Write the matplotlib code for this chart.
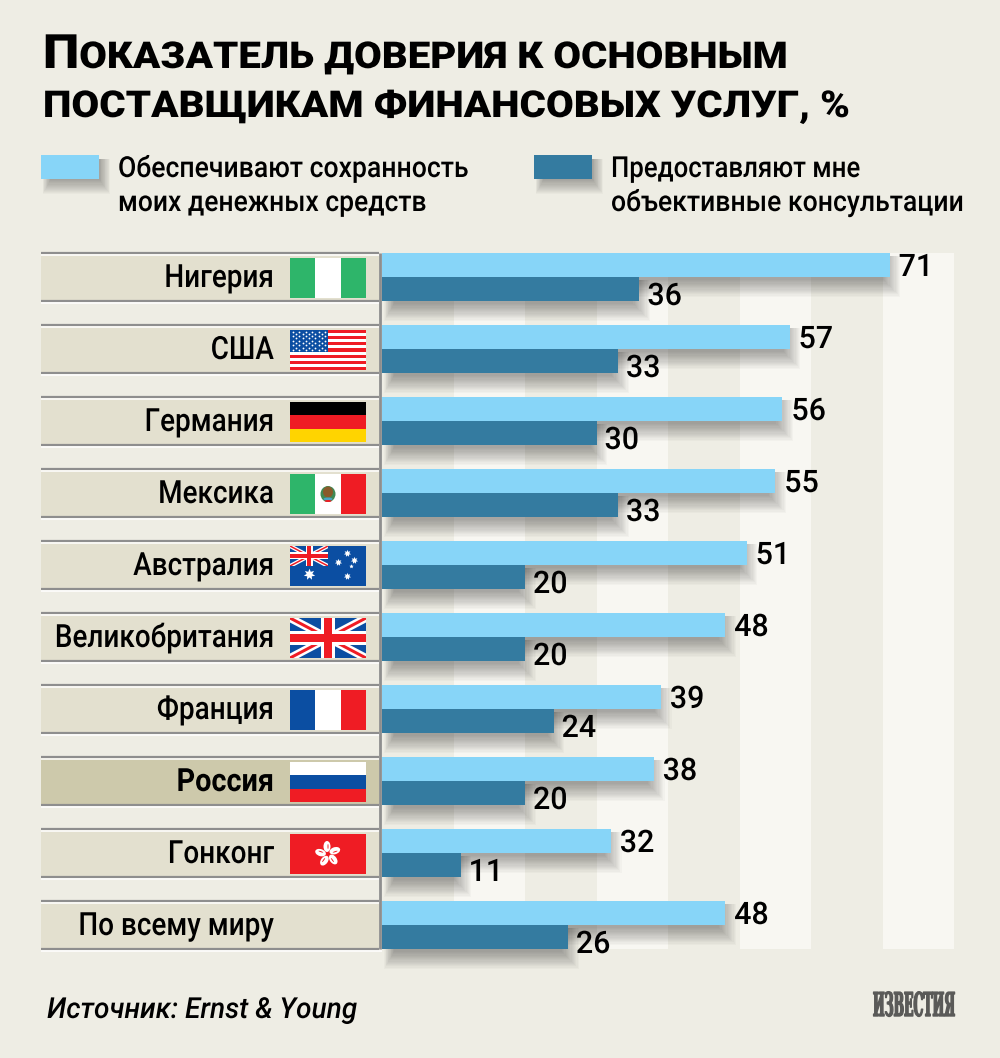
import matplotlib
matplotlib.use("Agg")
import matplotlib.pyplot as plt
from matplotlib.patches import Rectangle, Ellipse
from matplotlib.patheffects import AbstractPathEffect
from matplotlib.path import Path
from matplotlib.transforms import Affine2D

# ---------- data ----------
countries = ["Нигерия", "США", "Германия", "Мексика", "Австралия",
             "Великобритания", "Франция", "Россия", "Гонконг", "По всему миру"]
flags = ["ng", "us", "de", "mx", "au", "gb", "fr", "ru", "hk", None]
safety = [71, 57, 56, 55, 51, 48, 39, 38, 32, 48]
advice = [36, 33, 30, 33, 20, 20, 24, 20, 11, 26]
title_lines = ["Показатель доверия к основным".upper(),
               "поставщикам финансовых услуг, %".upper()]
legend_safety = ["Обеспечивают сохранность", "моих денежных средств"]
legend_advice = ["Предоставляют мне", "объективные консультации"]
source = "Источник: Ernst & Young"
logo = "ИЗВЕСТИЯ"

# ---------- style ----------
BG = "#eeede4"
STRIPE = "#f8f7f2"
LIGHT = "#87d5f8"
DARK = "#347ba0"
PANEL = "#e3e0cf"
PANEL_RU = "#cdc9ab"
GREY = "#8e8e8e"
GREEN = "#2eb56a"
RED = "#ef1c24"
BLUE = "#0b4ea2"
FONT = "Roboto"
PT = 0.72
W, H = 1000, 1058
ROW0, PITCH = 277, 72

fig = plt.figure(figsize=(W / 100, H / 100), dpi=100, facecolor=BG)
renderer = fig.canvas.get_renderer()

over = fig.add_axes([0, 0, 1, 1], zorder=1)
over.set_xlim(0, W)
over.set_ylim(H, 0)
over.axis("off")


class Stretch(AbstractPathEffect):
    """Scale glyphs about the text origin; optionally enlarge the first letter or thicken."""
    def __init__(self, sx=1.0, sy=1.0, first=None, adv=70, stroke=None):
        super().__init__()
        self.sx, self.sy, self.first, self.adv, self.stroke = sx, sy, first, adv, stroke

    def draw_path(self, r, gc, tpath, affine, rgbFace=None):
        if self.first:
            v = tpath.vertices.copy()
            m = v[:, 0] < self.adv
            v[m] *= self.first
            v[~m, 0] += self.adv * (self.first - 1)
            tpath = Path(v, tpath.codes)
        if self.stroke:
            g = r.new_gc()
            g.copy_properties(gc)
            g.set_linewidth(self.stroke)
            g.set_foreground(rgbFace)
            gc = g
        r.draw_path(gc, tpath, Affine2D().scale(self.sx, self.sy) + affine, rgbFace)


def put(s, x0, base, px, x1=None, right=None, sx=None, sy=1.0, color="black", first=None,
        stroke=None, **kw):
    kw.setdefault("family", FONT)
    t = over.text(x0 if x0 is not None else 0, base, s, fontsize=px * PT,
                  ha="left", va="baseline", color=color, **kw)
    w = t.get_window_extent(renderer).width
    if x1 is not None:
        extra = 0.70 * px * (first - 1) if first else 0
        sx = (x1 - x0) / (w + extra)
    sx = sx or 1.0
    if right is not None:
        t.set_x(right - w * sx)
    t.set_path_effects([Stretch(sx=sx, sy=sy, first=first, stroke=stroke)])
    return t


# ---------- title and legend ----------
put(title_lines[0], 43, 68, 37, x1=788, weight=900, first=1.28)
put(title_lines[1], 43, 117, 37, x1=850, weight=900)

for sw_x, col in ((41, LIGHT), (534, DARK)):
    for k in range(15):
        over.add_patch(Rectangle((sw_x + 10 - k * 0.6, 159), 48 + k * 1.4, 20 + k * 1.1,
                                 fc="black", ec="none", alpha=0.024))
    over.add_patch(Rectangle((sw_x, 155), 58, 24, fc=col, ec="none", zorder=3))

put(legend_safety[0], 118, 177, 29, x1=468, weight=500)
put(legend_safety[1], 118, 211, 29, x1=426, weight=500)
put(legend_advice[0], 611, 177, 29, x1=860, weight=500)
put(legend_advice[1], 611, 211, 29, x1=963, weight=500)

put(source, 47, 1018, 29, x1=357, style="italic", weight=500)
put(logo, 873, 1016, 16, x1=955, sy=2.05, stroke=1.0, color="#5a5a58", weight="bold",
    family="DejaVu Serif")

# ---------- left label panels ----------
for i, name in enumerate(countries):
    c = ROW0 + PITCH * i
    russia = name == "Россия"
    over.add_patch(Rectangle((41, c - 24), 338, 48, fc=PANEL_RU if russia else PANEL, ec="none"))
    for yy in (c - 24, c + 24):
        over.plot([41, 379], [yy, yy], color=GREY, lw=1.6, solid_capstyle="butt")
        over.plot([41, 382], [yy + 2, yy + 2], color="white", lw=1.1, solid_capstyle="butt")
    put(name, None, c + 10, 32, right=274, sx=0.90 if russia else 0.87,
        weight="bold" if russia else 500)
over.plot([380, 380], [ROW0 - 24, ROW0 + PITCH * 9 + 24], color=GREY, lw=2, solid_capstyle="butt")

# ---------- bars ----------
ax = fig.add_axes([382 / W, 1 - 949 / H, 572 / W, 696 / H], zorder=2)
ax.set_xlim(0, 80)
ax.set_ylim(9 + 1 / 3, -1 / 3)
ax.axis("off")
PXX, PXY = 572 / 80, 72.0

for lo in (10, 30, 50, 70):
    ax.axvspan(lo, lo + 10, color=STRIPE, lw=0, zorder=0)

ypos = list(range(len(countries)))
for vals, off in ((safety, -1 / 6), (advice, 1 / 6)):
    for y, v in zip(ypos, vals):
        for k in range(15):
            e = k * 1.2
            start = (12 - k * 0.7) / PXX
            ax.barh(y + off + (3 + e / 2) / PXY, v + (e - 6) / PXX - start, left=start,
                    height=24 / PXY + e / PXY, color="black", alpha=0.022, lw=0,
                    zorder=1, clip_on=False)

ax.barh([y - 1 / 6 for y in ypos], safety, height=1 / 3, color=LIGHT, lw=0, zorder=2)
ax.barh([y + 1 / 6 for y in ypos], advice, height=1 / 3, color=DARK, lw=0, zorder=3)

for y, v in zip(ypos, safety):
    t = ax.annotate(str(v), (v, y), xytext=(9, 1), textcoords="offset pixels", ha="left",
                    va="baseline", fontsize=31 * PT, family=FONT, weight=500, color="black",
                    zorder=5, annotation_clip=False)
    t.set_path_effects([Stretch(sx=0.98)])
for y, v in zip(ypos, advice):
    t = ax.annotate(str(v), (v, y), xytext=(8, -28), textcoords="offset pixels", ha="left",
                    va="baseline", fontsize=31 * PT, family=FONT, weight=500, color="black",
                    zorder=5, annotation_clip=False)
    t.set_path_effects([Stretch(sx=0.98)])


# ---------- flags (drawn in a 76x40 pixel box) ----------
def band(a, x, y, w, h, c, z=1):
    a.add_patch(Rectangle((x, y), w, h, fc=c, ec="none", zorder=z))


def union_jack(a, x, y, w, h):
    clip = Rectangle((x, y), w, h, transform=a.transData)
    band(a, x, y, w, h, BLUE)
    k = h / 40
    for pts in (((x, y), (x + w, y + h)), ((x, y + h), (x + w, y))):
        xs, ys = zip(*pts)
        for col, lw in (("white", 8 * k), (RED, 3 * k)):
            l, = a.plot(xs, ys, color=col, lw=lw * PT, solid_capstyle="butt", zorder=2)
            l.set_clip_path(clip)
    band(a, x + w / 2 - 7 * k, y, 14 * k, h, "white", 3)
    band(a, x, y + h / 2 - 7 * k, w, 14 * k, "white", 3)
    band(a, x + w / 2 - 4 * k, y, 8 * k, h, RED, 4)
    band(a, x, y + h / 2 - 4 * k, w, 8 * k, RED, 4)


def draw_flag(a, code):
    if code == "ng":
        band(a, 0, 0, 25, 40, GREEN); band(a, 25, 0, 26, 40, "white"); band(a, 51, 0, 25, 40, GREEN)
    elif code == "fr":
        band(a, 0, 0, 25, 40, BLUE); band(a, 25, 0, 26, 40, "white"); band(a, 51, 0, 25, 40, RED)
    elif code == "de":
        band(a, 0, 26.7, 76, 13.3, "black"); band(a, 0, 13.3, 76, 13.4, RED); band(a, 0, 0, 76, 13.3, "#ffd400")
    elif code == "ru":
        band(a, 0, 26.7, 76, 13.3, "white"); band(a, 0, 13.3, 76, 13.4, BLUE); band(a, 0, 0, 76, 13.3, RED)
    elif code == "mx":
        band(a, 0, 0, 25, 40, GREEN); band(a, 25, 0, 26, 40, "white"); band(a, 51, 0, 25, 40, RED)
        a.add_patch(Ellipse((38, 20), 15, 16, fc="#3f8a55", ec="none", zorder=2))
        a.add_patch(Ellipse((38, 22), 10, 11, fc="#8a5a2b", ec="none", zorder=3))
        a.add_patch(Ellipse((38, 15), 9, 3, fc="#4aa3c7", ec="none", zorder=4))
        a.add_patch(Ellipse((38, 13), 7, 2, fc=RED, ec="none", zorder=4))
    elif code == "us":
        band(a, 0, 0, 76, 40, "white")
        s = 40 / 13
        for k in range(0, 13, 2):
            band(a, 0, k * s, 76, s, RED, 2)
        band(a, 0, 6 * s, 38, 7 * s, BLUE, 3)
        for r in range(9):
            n = 6 if r % 2 == 0 else 5
            dx = 0 if r % 2 == 0 else 3.2
            yy = 6 * s + 1.6 + r * 2.3
            a.scatter([3 + dx + j * 6.4 for j in range(n)], [yy] * n, s=1.7, c="white", lw=0, zorder=4)
    elif code == "gb":
        union_jack(a, 0, 0, 76, 40)
    elif code == "au":
        band(a, 0, 0, 76, 40, BLUE)
        union_jack(a, 0, 20, 38, 20)
        a.scatter([19], [12], marker=(7, 1), s=70, c="white", lw=0, zorder=5)
        a.scatter([57, 48, 64, 57], [33, 24, 26, 10], marker=(7, 1), s=28, c="white", lw=0, zorder=5)
        a.scatter([61], [20], marker=(5, 1), s=10, c="white", lw=0, zorder=5)
    elif code == "hk":
        band(a, 0, 0, 76, 40, RED)
        for k in range(5):
            ang = 90 + 72 * k
            tr = Affine2D().rotate_deg(ang).translate(38, 20) + a.transData
            a.add_patch(Ellipse((7.5, 1), 11, 7, fc="white", ec="none", zorder=3, transform=tr))
            a.add_patch(Ellipse((7.5, 0), 5, 1, fc=RED, ec="none", zorder=4, transform=tr))


for i, code in enumerate(flags):
    if code is None:
        continue
    c = ROW0 + PITCH * i + 1
    fa = fig.add_axes([290 / W, 1 - (c + 20) / H, 76 / W, 40 / H], zorder=3)
    fa.set_xlim(0, 76)
    fa.set_ylim(0, 40)
    fa.axis("off")
    draw_flag(fa, code)

fig.savefig("out.png", dpi=100, facecolor=BG)
